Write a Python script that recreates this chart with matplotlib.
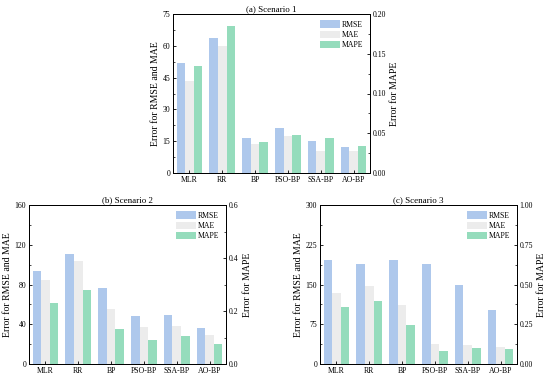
import matplotlib
matplotlib.use("Agg")
import matplotlib.pyplot as plt
import numpy as np
from matplotlib.ticker import AutoMinorLocator

plt.rcParams["font.family"] = ["Liberation Serif", "DejaVu Serif"]
plt.rcParams["xtick.direction"] = "in"
plt.rcParams["ytick.direction"] = "in"

models = ["MLR", "RR", "BP", "PSO-BP", "SSA-BP", "AO-BP"]

rmse_s1 = [52.1, 63.5, 16.5, 21.1, 15.0, 12.1]
mae_s1 = [43.5, 59.8, 13.9, 17.3, 10.4, 10.4]
mape_s1 = [0.134, 0.185, 0.0387, 0.0475, 0.0437, 0.034]

rmse_s2 = [93.6, 111.0, 76.8, 48.3, 49.3, 35.9]
mae_s2 = [84.5, 103.3, 55.3, 37.6, 38.2, 29.5]
mape_s2 = [0.230, 0.279, 0.132, 0.089, 0.106, 0.075]

rmse_s3 = [196.9, 188.0, 197.0, 188.0, 148.4, 102.5]
mae_s3 = [134.0, 147.8, 110.7, 37.7, 35.2, 32.0]
mape_s3 = [0.358, 0.394, 0.245, 0.080, 0.0985, 0.092]

C_RMSE, C_MAE, C_MAPE = "#aec8ec", "#ececec", "#95dcbc"
W = 0.26
FS = 5.6


def panel(rect, title, rmse, mae, mape, yticks, rticks, rlabels):
    ax = fig.add_axes(rect)
    x = np.arange(len(models))
    ax.bar(x - W, rmse, W, color=C_RMSE, label="RMSE")
    ax.bar(x, mae, W, color=C_MAE, label="MAE")
    ax2 = ax.twinx()
    ax2.bar(x + W, mape, W, color=C_MAPE, label="MAPE")
    ax.set_xlim(-0.5, 5.5)
    ax.set_ylim(yticks[0], yticks[-1])
    ax2.set_ylim(rticks[0], rticks[-1])
    ax.set_yticks(yticks)
    ax2.set_yticks(rticks)
    ax2.set_yticklabels(rlabels)
    ax.set_xticks(x)
    ax.set_xticklabels(models)
    for a in (ax, ax2):
        a.yaxis.set_minor_locator(AutoMinorLocator(2))
        a.tick_params(labelsize=FS, length=2.5, width=0.6, pad=2)
        a.tick_params(which="minor", length=1.5, width=0.5)
        for s in a.spines.values():
            s.set_linewidth(0.7)
    ax.set_ylabel("Error for RMSE and MAE", fontsize=7, labelpad=2)
    ax2.set_ylabel("Error for MAPE", fontsize=7, labelpad=3)
    ax.set_title(title, fontsize=6.5, pad=2)
    h1, l1 = ax.get_legend_handles_labels()
    h2, l2 = ax2.get_legend_handles_labels()
    ax2.legend(h1 + h2, l1 + l2, loc="upper right", frameon=False,
               fontsize=FS, handlelength=2.6, handleheight=1.1,
               labelspacing=0.25, handletextpad=0.3, borderaxespad=0.4)


fig = plt.figure(figsize=(5.5, 3.78), dpi=100)
W_AX, H_AX = 197 / 550, 159 / 378
panel([173 / 550, 1 - 173 / 378, W_AX, H_AX], "(a) Scenario 1",
      rmse_s1, mae_s1, mape_s1, [0, 15, 30, 45, 60, 75],
      [0, 0.05, 0.10, 0.15, 0.20], ["0.00", "0.05", "0.10", "0.15", "0.20"])
panel([29 / 550, 1 - 364 / 378, W_AX, H_AX], "(b) Scenario 2",
      rmse_s2, mae_s2, mape_s2, [0, 40, 80, 120, 160],
      [0, 0.2, 0.4, 0.6], ["0.0", "0.2", "0.4", "0.6"])
panel([320 / 550, 1 - 364 / 378, W_AX, H_AX], "(c) Scenario 3",
      rmse_s3, mae_s3, mape_s3, [0, 75, 150, 225, 300],
      [0, 0.25, 0.5, 0.75, 1.0], ["0.00", "0.25", "0.50", "0.75", "1.00"])

fig.savefig("out.png", dpi=100)
